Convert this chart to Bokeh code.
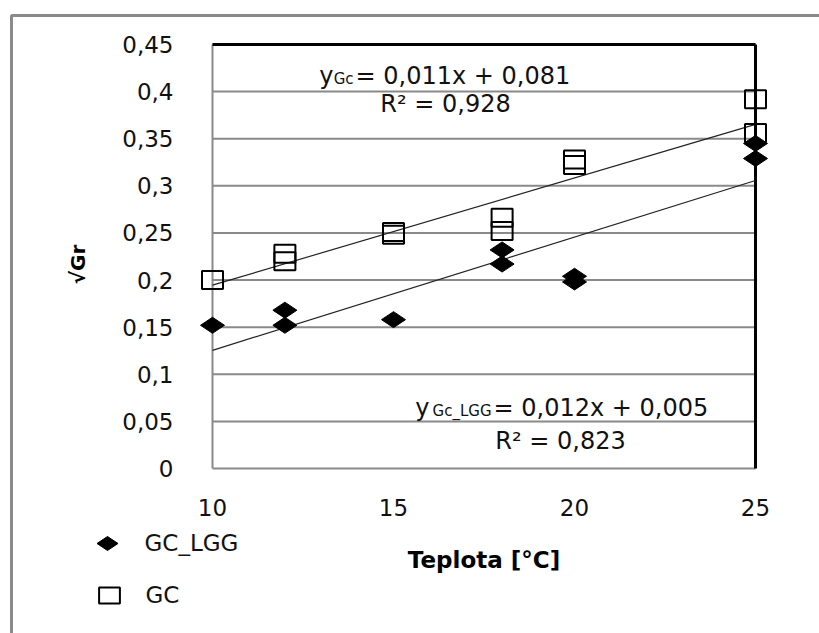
import numpy as np
from bokeh.plotting import figure
from bokeh.models import (Range1d, FixedTicker, Label, Legend, LegendItem,
                          BoxAnnotation)
from bokeh.embed import file_html
from bokeh.resources import INLINE

# ---------------- data ----------------
GC_LGG_T = [10, 12, 12, 15, 18, 18, 20, 20, 25, 25]
GC_LGG_VGR = [0.152, 0.152, 0.168, 0.158, 0.217, 0.232, 0.198, 0.204, 0.329, 0.345]

GC_T = [10, 12, 12, 15, 15, 18, 18, 20, 20, 25, 25]
GC_VGR = [0.200, 0.220, 0.228, 0.248, 0.251, 0.252, 0.266, 0.322, 0.328, 0.356, 0.392]

TREND_T = [10, 25]
GC_FIT = [0.01137, 0.0809]        # slope, intercept of the drawn trend line
GC_LGG_FIT = [0.01202, 0.0052]

X_TICKS = [10, 15, 20, 25]
Y_TICKS = [0, 0.05, 0.1, 0.15, 0.2, 0.25, 0.3, 0.35, 0.4, 0.45]
Y_TICK_LABELS = ["0", "0,05", "0,1", "0,15", "0,2", "0,25", "0,3", "0,35", "0,4", "0,45"]

SERIES_NAMES = ["GC_LGG", "GC"]
EQ_GC = ["y", "Gc", "= 0,011x + 0,081", "R\u00b2 = 0,928"]
EQ_GC_LGG = ["y", "Gc_LGG", "= 0,012x + 0,005", "R\u00b2 = 0,823"]
X_TITLE = "Teplota [\u00b0C]"
Y_TITLE = "\u221aGr"

# ---------------- layout ----------------
W, H = 819, 633
FL, FR, FT, FB = 212, 755, 44, 468          # plot-area edges in pixels
X0, X1, Y0, Y1 = 10, 25, 0, 0.45            # plot-area data limits
FONT = "DejaVu Sans"
XS = (X1 - X0) / (FR - FL)                  # data units per pixel
YS = (Y1 - Y0) / (FB - FT)


def px2x(px):
    return X0 + (px - FL) * XS


def px2y(py):
    return Y0 + (FB - py) * YS


# the Bokeh frame covers the whole canvas; the Excel-like plot area is inside it
p = figure(width=W, height=H, output_backend="svg", toolbar_location=None,
           x_range=Range1d(px2x(0), px2x(W)), y_range=Range1d(px2y(H), px2y(0)),
           min_border=0, min_border_left=0, min_border_right=0,
           min_border_top=0, min_border_bottom=0)
p.outline_line_color = None
p.background_fill_color = "white"
p.border_fill_color = "white"
p.xgrid.visible = False
p.ygrid.visible = False

# axes fixed at the plot-area edges
for ax in (p.xaxis[0], p.yaxis[0]):
    ax.axis_line_color = None
    ax.major_tick_line_color = None
    ax.minor_tick_line_color = None
    ax.major_label_text_font = FONT
    ax.major_label_text_font_size = "23px"
    ax.major_label_text_color = "#111111"
    ax.axis_label_text_font = FONT
    ax.axis_label_text_font_style = "bold"
    ax.axis_label_text_color = "#000000"

p.xaxis.fixed_location = Y0
p.xaxis.bounds = (X0, X1)
p.xaxis.ticker = FixedTicker(ticks=X_TICKS)
p.xaxis.major_label_standoff = 24
p.xaxis.axis_label = X_TITLE
p.xaxis.axis_label_text_font_size = "23px"
p.xaxis.axis_label_standoff = 28

p.yaxis.fixed_location = X0
p.yaxis.bounds = (Y0 - 16 * YS, Y1)
p.yaxis.ticker = FixedTicker(ticks=Y_TICKS)
p.yaxis.major_label_overrides = {t: s for t, s in zip(Y_TICKS, Y_TICK_LABELS)}
p.yaxis.major_label_standoff = 33
p.yaxis.axis_label = Y_TITLE
p.yaxis.axis_label_text_font_size = "20px"
p.yaxis.axis_label_standoff = 29

# outer chart border (gray, top & left)
p.add_layout(BoxAnnotation(left=11, right=W + 20, top=15, bottom=H + 20,
                           left_units="canvas", right_units="canvas",
                           top_units="canvas", bottom_units="canvas",
                           fill_alpha=0, line_color="#8a8a8a", line_alpha=1,
                           line_width=3))

# horizontal gridlines across the plot area
n = len(Y_TICKS)
p.segment(x0=[X0] * n, y0=Y_TICKS, x1=[X1] * n, y1=Y_TICKS,
          line_color="#8a8a8a", line_width=2)
# plot-area edges: gray left, black top & right
p.segment(x0=[X0], y0=[Y0], x1=[X0], y1=[Y1], line_color="#8a8a8a", line_width=2)
p.segment(x0=[X0, X1], y0=[Y1, Y0], x1=[X1, X1], y1=[Y1, Y1],
          line_color="black", line_width=3)

# trend lines
p.line(TREND_T, [GC_FIT[0] * t + GC_FIT[1] for t in TREND_T],
       line_color="#222222", line_width=1.2)
p.line(TREND_T, [GC_LGG_FIT[0] * t + GC_LGG_FIT[1] for t in TREND_T],
       line_color="#222222", line_width=1.2)

# markers
r_sq = p.rect(x=GC_T, y=GC_VGR, width=21, height=18, width_units="screen",
              height_units="screen", fill_color=None, line_color="black", line_width=2)
r_di = p.scatter(x=GC_LGG_T, y=GC_LGG_VGR, marker="diamond", angle=np.pi / 2, size=24,
                 fill_color="black", line_color="black")

# legend: Bokeh does not rotate legend markers, so the GC_LGG key diamond is
# drawn at the legend glyph position and the legend entry uses an empty proxy
r_di_key = p.scatter(x=[], y=[], marker="diamond", fill_alpha=0, line_alpha=0)
LEG_DIAMOND_PX = (107, 543)
p.scatter(x=[px2x(LEG_DIAMOND_PX[0])], y=[px2y(LEG_DIAMOND_PX[1])], marker="diamond",
          angle=np.pi / 2, size=21, fill_color="black", line_color="black")

leg_a = Legend(items=[LegendItem(label=SERIES_NAMES[0], renderers=[r_di_key])],
               location=(LEG_DIAMOND_PX[0] - 27.5, H - LEG_DIAMOND_PX[1] - 27.5),
               glyph_width=55, glyph_height=55,
               label_standoff=10, padding=0, margin=0, spacing=0,
               border_line_alpha=0, background_fill_alpha=0,
               label_text_font=FONT, label_text_font_size="23px",
               label_text_color="#111111")
leg_b = Legend(items=[LegendItem(label=SERIES_NAMES[1], renderers=[r_sq])],
               location=(95.5, H - 608), glyph_width=26, glyph_height=20,
               label_standoff=24, padding=0, margin=0, spacing=0,
               border_line_alpha=0, background_fill_alpha=0,
               label_text_font=FONT, label_text_font_size="23px",
               label_text_color="#111111")
p.add_layout(leg_a)
p.add_layout(leg_b)


def equation(parts, eq_left_px, base_px, r2_center_px, r2_base_px, sub_w):
    y_lbl, sub, rest, r2 = parts
    common = dict(text_font=FONT, text_color="#111111", text_baseline="alphabetic")
    p.add_layout(Label(x=px2x(eq_left_px), y=px2y(base_px), text=rest,
                       text_align="left", text_font_size="24px", **common))
    p.add_layout(Label(x=px2x(eq_left_px - 2), y=px2y(base_px + 3), text=sub,
                       text_align="right", text_font_size="15px", **common))
    p.add_layout(Label(x=px2x(eq_left_px - 2 - sub_w), y=px2y(base_px), text=y_lbl,
                       text_align="right", text_font_size="24px", **common))
    p.add_layout(Label(x=px2x(r2_center_px), y=px2y(r2_base_px), text=r2,
                       text_align="center", text_font_size="24px", **common))


equation(EQ_GC, 355, 75, 445, 103, 20)
equation(EQ_GC_LGG, 493, 407, 560, 440, 62)

open("out.html", "w").write(file_html(p, INLINE))
